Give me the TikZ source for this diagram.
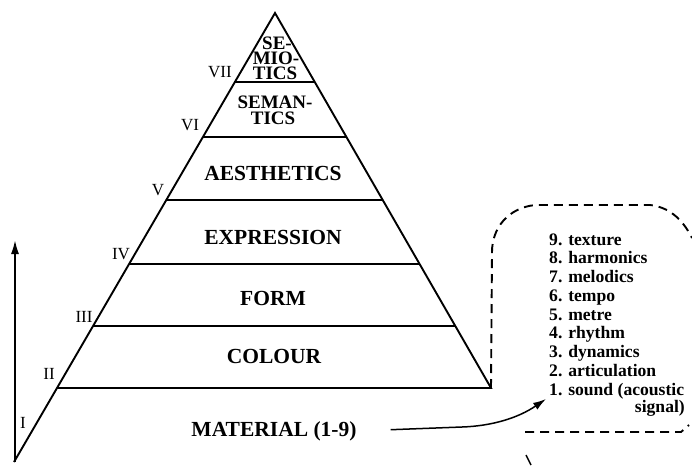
\documentclass[tikz,border=0pt]{standalone}
\usepackage{fontspec}
\setmainfont{Liberation Serif}
\usetikzlibrary{arrows.meta}
\begin{document}
\begin{tikzpicture}[x=1pt,y=-1pt,
  edge/.style={line width=1.9pt, black},
  lvl/.style={font=\fontsize{21.5}{24}\selectfont\bfseries, inner sep=0pt},
  smalllvl/.style={font=\fontsize{19}{15}\selectfont\bfseries, inner sep=0pt},
  roman/.style={font=\fontsize{17}{18}\selectfont, inner sep=0pt},
  listitem/.style={font=\fontsize{17.6}{18}\selectfont\bfseries, inner sep=0pt, anchor=base west},
  dashbox/.style={line width=1.9pt, dash pattern=on 9pt off 6pt},
]
\useasboundingbox (0,0) rectangle (692,465);
% pyramid
\coordinate (apex) at (275,13);
\coordinate (bl) at (14,462);
\coordinate (br) at (491,388);
\coordinate (l7) at (234.9,82);  \coordinate (r7) at (314.7,82);
\coordinate (l6) at (202.9,137); \coordinate (r6) at (346.4,137);
\coordinate (l5) at (166.2,200); \coordinate (r5) at (382.7,200);
\coordinate (l4) at (129.0,264); \coordinate (r4) at (419.6,264);
\coordinate (l3) at (93.0,326);  \coordinate (r3) at (455.3,326);
\coordinate (l2) at (56.9,388);
\draw[edge, line join=miter] (bl) -- (apex) -- (br) -- (l2);
\draw[edge] (l7) -- (r7);
\draw[edge] (l6) -- (r6);
\draw[edge] (l5) -- (r5);
\draw[edge] (l4) -- (r4);
\draw[edge] (l3) -- (r3);
% vertical arrow
\coordinate (vb) at (15,462);
\coordinate (vt) at (15,240);
\draw[edge, -{Latex[length=14pt,width=8pt]}] (vb) -- (vt);
% level labels
\node[smalllvl] (semioA) at (277,43) {SE-};
\node[smalllvl] (semioB) at (276,58) {MIO-};
\node[smalllvl] (semioC) at (275,73) {TICS};
\node[smalllvl] (semanA) at (275,102) {SEMAN-};
\node[smalllvl] (semanB) at (273,118) {TICS};
\node[lvl] (aes) at (273,173) {AESTHETICS};
\node[lvl] (expr) at (273,237) {EXPRESSION};
\node[lvl] (form) at (273,298) {FORM};
\node[lvl] (col) at (274,356) {COLOUR};
\node[lvl] (mat) at (274,431) {MATERIAL (1-9)};
% roman numerals
\node[roman] (rI) at (23,423) {I};
\node[roman] (rII) at (49,374) {II};
\node[roman] (rIII) at (84,317) {III};
\node[roman] (rIV) at (121,254) {IV};
\node[roman] (rV) at (158,190) {V};
\node[roman] (rVI) at (190,125) {VI};
\node[roman] (rVII) at (220,72) {VII};
% list
\node[listitem] (it9) at (549,245) {9. texture};
\node[listitem] (it8) at (549,263.75) {8. harmonics};
\node[listitem] (it7) at (549,282.5) {7. melodics};
\node[listitem] (it6) at (549,301.25) {6. tempo};
\node[listitem] (it5) at (549,320) {5. metre};
\node[listitem] (it4) at (549,338.75) {4. rhythm};
\node[listitem] (it3) at (549,357.5) {3. dynamics};
\node[listitem] (it2) at (549,376.25) {2. articulation};
\node[listitem] (it1) at (549,395) {1. sound (acoustic};
\node[listitem, anchor=base east] (it1b) at (685,412) {signal)};
% dashed box
\draw[dashbox] (br) -- (492,252) .. controls (492,228) and (508,208) .. (535,205)
  -- (650,205) .. controls (668,207) and (682,218) .. (692,238);
\draw[dashbox] (525,432) -- (681,432) -- (689,425);
\coordinate (tk1) at (526,455); \coordinate (tk2) at (531,465);
\draw[line width=1.5pt] (tk1) -- (tk2);
% material arrow
\coordinate (mk) at (462,427);
\draw[line width=1.5pt, shorten <=34pt, -{Latex[length=13pt,width=8pt]}]
  (mat.east) -- (mk) .. controls (492,426) and (518,418) .. ([xshift=-3pt]it1.south west);
\end{tikzpicture}
\end{document}
